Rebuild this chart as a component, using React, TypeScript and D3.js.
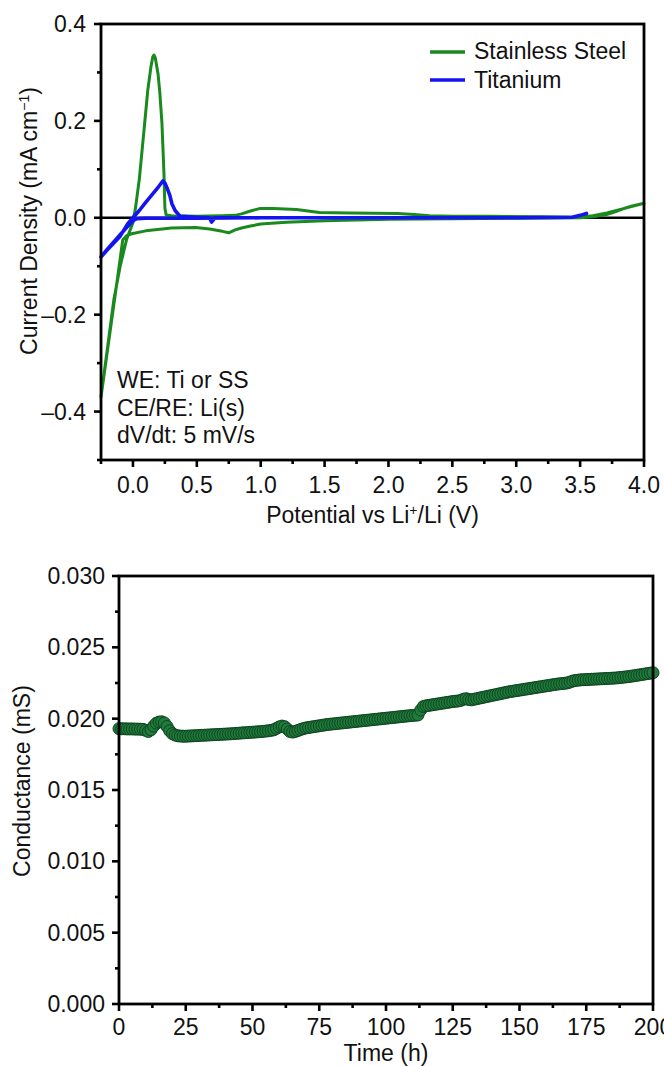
import React from "react";
import * as d3 from "d3";

// ---------- Top chart data: cyclic voltammetry ----------
// Stainless steel: cathodic scan (4.0 -> -0.25 V) followed by anodic scan (-0.25 -> 4.0 V)
const ssPotential = [
  4.0, 3.95, 3.9, 3.85, 3.8, 3.75, 3.7, 3.6, 3.5, 3.0, 2.5, 2.0, 1.5, 1.2, 1.0, 0.92, 0.85, 0.8, 0.75, 0.7, 0.6, 0.49, 0.3, 0.23, 0.1, -0.01, -0.05, -0.08, -0.1, -0.15, -0.2, -0.25,
  -0.2, -0.15, -0.1, -0.05, 0.0, 0.02, 0.05, 0.07, 0.09, 0.116, 0.14, 0.155, 0.165, 0.175, 0.196, 0.21, 0.227, 0.243, 0.25, 0.26, 0.3, 0.5, 0.7, 0.8, 0.85, 0.92, 0.99, 1.1, 1.28, 1.46, 1.7, 2.07, 2.2, 2.32, 2.5, 2.8, 3.2, 3.5, 3.6, 3.71, 3.8, 3.87, 3.97, 4.0,
];
const ssCurrent = [
  0.030, 0.027, 0.024, 0.020, 0.015, 0.010, 0.006, 0.002, 0.0, -0.001, -0.002, -0.003, -0.006, -0.009, -0.013, -0.017, -0.021, -0.025, -0.031, -0.028, -0.023, -0.020, -0.021, -0.023, -0.027, -0.033, -0.037, -0.046, -0.085, -0.18, -0.275, -0.37,
  -0.27, -0.17, -0.10, -0.045, -0.01, 0.02, 0.08, 0.135, 0.19, 0.263, 0.31, 0.332, 0.336, 0.33, 0.298, 0.26, 0.195, 0.09, 0.02, 0.006, 0.004, 0.003, 0.004, 0.005, 0.008, 0.014, 0.019, 0.019, 0.017, 0.011, 0.010, 0.009, 0.007, 0.004, 0.003, 0.003, 0.002, 0.001, 0.004, 0.010, 0.016, 0.021, 0.028, 0.030,
];
// Titanium: cathodic scan (3.55 -> -0.25 V) followed by anodic scan (-0.25 -> 3.55 V)
const tiPotential = [
  3.55, 3.5, 3.44, 3.0, 2.0, 1.0, 0.5, 0.1, 0.03, 0.0, -0.05, -0.1, -0.15, -0.2, -0.25,
  -0.2, -0.1, -0.04, 0.0, 0.05, 0.1, 0.15, 0.2, 0.235, 0.25, 0.266, 0.29, 0.305, 0.33, 0.37, 0.5, 0.6, 0.615, 0.625, 0.64, 1.0, 2.0, 3.0, 3.44, 3.5, 3.55,
];
const tiCurrent = [
  0.009, 0.005, 0.001, 0.0, 0.0, 0.0, -0.001, -0.001, -0.002, -0.006, -0.02, -0.035, -0.05, -0.065, -0.081,
  -0.066, -0.038, -0.012, 0.0, 0.015, 0.032, 0.048, 0.064, 0.076, 0.072, 0.062, 0.045, 0.029, 0.015, 0.003, 0.001, 0.0, -0.009, -0.006, 0.0, 0.0, 0.0, 0.0, 0.001, 0.005, 0.009,
];
const cvSeriesNames = ["Stainless Steel", "Titanium"];
const cvSeriesColors = ["#1a8a1e", "#1414f0"];
const cvXTicks = [0.0, 0.5, 1.0, 1.5, 2.0, 2.5, 3.0, 3.5, 4.0];
const cvXMinor = [-0.25, 0.25, 0.75, 1.25, 1.75, 2.25, 2.75, 3.25, 3.75];
const cvYTicks = [0.4, 0.2, 0.0, -0.2, -0.4];
const cvYMinor = [0.3, 0.1, -0.1, -0.3, -0.5];
const cvNotes = ["WE: Ti or SS", "CE/RE: Li(s)", "dV/dt: 5 mV/s"];

// ---------- Bottom chart data: conductance vs time (one reading per hour, 0-200 h) ----------
const conductanceStepH = 1;
const conductance = [
  0.01930, 0.01929, 0.01929, 0.01928, 0.01928, 0.01928, 0.01927, 0.01927, 0.01926, 0.01925,
  0.01918, 0.01910, 0.01922, 0.01948, 0.01968, 0.01976, 0.01978, 0.01970, 0.01945, 0.01915,
  0.01895, 0.01885, 0.01880, 0.01878, 0.01877, 0.01877, 0.01878, 0.01879, 0.01880, 0.01881,
  0.01882, 0.01883, 0.01884, 0.01885, 0.01886, 0.01887, 0.01888, 0.01889, 0.01890, 0.01891,
  0.01892, 0.01893, 0.01894, 0.01895, 0.01897, 0.01898, 0.01900, 0.01901, 0.01902, 0.01904,
  0.01905, 0.01906, 0.01908, 0.01909, 0.01911, 0.01913, 0.01915, 0.01918, 0.01922, 0.01932,
  0.01942, 0.01948, 0.01944, 0.01928, 0.01910, 0.01906, 0.01910, 0.01917, 0.01924, 0.01930,
  0.01935, 0.01938, 0.01941, 0.01944, 0.01947, 0.01950, 0.01953, 0.01956, 0.01959, 0.01961,
  0.01963, 0.01965, 0.01967, 0.01969, 0.01971, 0.01973, 0.01975, 0.01977, 0.01979, 0.01981,
  0.01983, 0.01985, 0.01987, 0.01989, 0.01991, 0.01993, 0.01995, 0.01997, 0.01999, 0.02001,
  0.02003, 0.02005, 0.02007, 0.02009, 0.02011, 0.02013, 0.02015, 0.02017, 0.02019, 0.02021,
  0.02023, 0.02024, 0.02026, 0.02060, 0.02085, 0.02090, 0.02093, 0.02096, 0.02099, 0.02102,
  0.02105, 0.02108, 0.02111, 0.02114, 0.02117, 0.02120, 0.02122, 0.02124, 0.02128, 0.02136,
  0.02140, 0.02134, 0.02132, 0.02136, 0.02140, 0.02144, 0.02148, 0.02152, 0.02156, 0.02160,
  0.02164, 0.02168, 0.02172, 0.02176, 0.02180, 0.02184, 0.02188, 0.02191, 0.02194, 0.02197,
  0.02200, 0.02203, 0.02206, 0.02209, 0.02212, 0.02215, 0.02218, 0.02221, 0.02224, 0.02227,
  0.02230, 0.02233, 0.02236, 0.02239, 0.02242, 0.02244, 0.02246, 0.02248, 0.02251, 0.02257,
  0.02264, 0.02268, 0.02270, 0.02272, 0.02273, 0.02274, 0.02275, 0.02276, 0.02277, 0.02278,
  0.02279, 0.02280, 0.02281, 0.02282, 0.02283, 0.02284, 0.02285, 0.02287, 0.02289, 0.02291,
  0.02293, 0.02295, 0.02298, 0.02301, 0.02304, 0.02307, 0.02310, 0.02313, 0.02316, 0.02319,
  0.02322,
];
const gXTicks = [0, 25, 50, 75, 100, 125, 150, 175, 200];
const gXMinor = [12.5, 37.5, 62.5, 87.5, 112.5, 137.5, 162.5, 187.5];
const gYTicks = [0.0, 0.005, 0.01, 0.015, 0.02, 0.025, 0.03];
const gYMinor = [0.0025, 0.0075, 0.0125, 0.0175, 0.0225, 0.0275];

const FONT = "'Liberation Sans', Arial, Helvetica, sans-serif";
const FS = 23;
const AXW = 2.8;
const MAJ = 7;
const MIN = 4;

const fmtSigned = (f: string) => (v: number) => {
  const s = d3.format(f)(Math.abs(v));
  return v < 0 ? "\u2013" + s : s;
};

export default function App() {
  // top chart geometry
  const t = { left: 101, right: 644, top: 24, bottom: 460 };
  const x1 = d3.scaleLinear().domain([-0.25, 4.0]).range([t.left, t.right]);
  const y1 = d3.scaleLinear().domain([-0.5, 0.4]).range([t.bottom, t.top]);
  const line1 = d3
    .line<[number, number]>()
    .x((d) => x1(d[0]))
    .y((d) => y1(d[1]));
  const ssPts: [number, number][] = ssPotential.map((v, i) => [v, ssCurrent[i]]);
  const tiPts: [number, number][] = tiPotential.map((v, i) => [v, tiCurrent[i]]);
  const fmt1 = fmtSigned(".1f");

  // bottom chart geometry
  const b = { left: 119, right: 653, top: 576, bottom: 1004 };
  const x2 = d3.scaleLinear().domain([0, 200]).range([b.left, b.right]);
  const y2 = d3.scaleLinear().domain([0, 0.03]).range([b.bottom, b.top]);
  const fmt3 = d3.format(".3f");

  return (
    <svg
      width={664}
      height={1066}
      style={{ position: "absolute", left: 0, top: 0, background: "#fff" }}
      fontFamily={FONT}
    >
      <rect x={0} y={0} width={664} height={1066} fill="#fff" />
      {/* ================= TOP CHART ================= */}
      <g>
        {/* zero line */}
        <line x1={t.left} x2={t.right} y1={y1(0)} y2={y1(0)} stroke="#000" strokeWidth={2.4} />
        {/* data */}
        <path d={line1(ssPts) || ""} fill="none" stroke={cvSeriesColors[0]} strokeWidth={3} strokeLinejoin="round" strokeLinecap="round" />
        <path d={line1(tiPts) || ""} fill="none" stroke={cvSeriesColors[1]} strokeWidth={3.6} strokeLinejoin="round" strokeLinecap="round" />
        {/* frame */}
        <rect x={t.left} y={t.top} width={t.right - t.left} height={t.bottom - t.top} fill="none" stroke="#000" strokeWidth={AXW} />
        {/* x ticks */}
        {cvXTicks.map((v) => (
          <g key={"xt" + v}>
            <line x1={x1(v)} x2={x1(v)} y1={t.bottom} y2={t.bottom + MAJ} stroke="#000" strokeWidth={2.6} />
            <text x={x1(v)} y={493} textAnchor="middle" fontSize={FS} fill="#111">
              {fmt1(v)}
            </text>
          </g>
        ))}
        {cvXMinor.map((v) => (
          <line key={"xm" + v} x1={x1(v)} x2={x1(v)} y1={t.bottom} y2={t.bottom + MIN} stroke="#000" strokeWidth={2.6} />
        ))}
        {/* y ticks */}
        {cvYTicks.map((v) => (
          <g key={"yt" + v}>
            <line x1={t.left - MAJ} x2={t.left} y1={y1(v)} y2={y1(v)} stroke="#000" strokeWidth={2.6} />
            <text x={86} y={y1(v)} dy="0.35em" textAnchor="end" fontSize={FS} fill="#111">
              {fmt1(v)}
            </text>
          </g>
        ))}
        {cvYMinor.map((v) => (
          <line key={"ym" + v} x1={t.left - MIN} x2={t.left} y1={y1(v)} y2={y1(v)} stroke="#000" strokeWidth={2.6} />
        ))}
        {/* axis titles */}
        <text x={(t.left + t.right) / 2} y={523} textAnchor="middle" fontSize={FS} fill="#111">
          Potential vs Li
          <tspan fontSize={14} dy={-8}>+</tspan>
          <tspan dy={8}>/Li (V)</tspan>
        </text>
        <text transform={`translate(37,221) rotate(-90)`} textAnchor="middle" fontSize={FS} fill="#111">
          Current Density (mA cm
          <tspan fontSize={14} dy={-8}>{"\u2212"}1</tspan>
          <tspan dy={8}>)</tspan>
        </text>
        {/* legend */}
        {cvSeriesNames.map((n, i) => (
          <g key={n}>
            <line x1={430} x2={465} y1={52 + i * 28} y2={52 + i * 28} stroke={cvSeriesColors[i]} strokeWidth={3.6} />
            <text x={474} y={59 + i * 29} fontSize={FS} fill="#111">
              {n}
            </text>
          </g>
        ))}
        {/* notes */}
        {cvNotes.map((n, i) => (
          <text key={n} x={117} y={388 + i * 27.5} fontSize={FS} fill="#111">
            {n}
          </text>
        ))}
      </g>

      {/* ================= BOTTOM CHART ================= */}
      <g>
        {conductance.map((v, i) => (
          <circle key={i} cx={x2(i * conductanceStepH)} cy={y2(v)} r={6} fill="#1f7a3b" stroke="#0e4520" strokeWidth={1} />
        ))}
        <rect x={b.left} y={b.top} width={b.right - b.left} height={b.bottom - b.top} fill="none" stroke="#000" strokeWidth={AXW} />
        {gXTicks.map((v) => (
          <g key={"gx" + v}>
            <line x1={x2(v)} x2={x2(v)} y1={b.bottom} y2={b.bottom + MAJ} stroke="#000" strokeWidth={2.6} />
            <text x={x2(v)} y={1035} textAnchor="middle" fontSize={FS} fill="#111">
              {v}
            </text>
          </g>
        ))}
        {gXMinor.map((v) => (
          <line key={"gxm" + v} x1={x2(v)} x2={x2(v)} y1={b.bottom} y2={b.bottom + MIN} stroke="#000" strokeWidth={2.6} />
        ))}
        {gYTicks.map((v) => (
          <g key={"gy" + v}>
            <line x1={b.left - MAJ} x2={b.left} y1={y2(v)} y2={y2(v)} stroke="#000" strokeWidth={2.6} />
            <text x={105} y={y2(v)} dy="0.35em" textAnchor="end" fontSize={FS} fill="#111">
              {fmt3(v)}
            </text>
          </g>
        ))}
        {gYMinor.map((v) => (
          <line key={"gym" + v} x1={b.left - MIN} x2={b.left} y1={y2(v)} y2={y2(v)} stroke="#000" strokeWidth={2.6} />
        ))}
        <text x={(b.left + b.right) / 2} y={1061} textAnchor="middle" fontSize={FS} fill="#111">
          Time (h)
        </text>
        <text transform={`translate(30,781) rotate(-90)`} textAnchor="middle" fontSize={FS} fill="#111">
          Conductance (mS)
        </text>
      </g>
    </svg>
  );
}
